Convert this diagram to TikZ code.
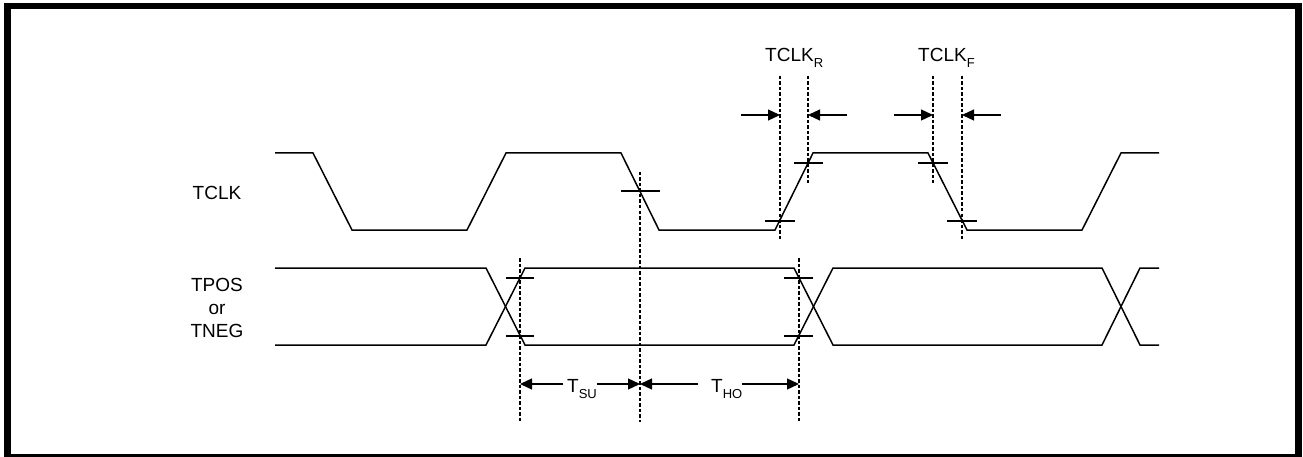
\documentclass[tikz,border=0pt]{standalone}
\usepackage{fontspec}
\setmainfont{Liberation Sans}
\usetikzlibrary{arrows.meta}
\newcommand{\mysub}[1]{\raisebox{-6pt}{\fontsize{13}{13}\selectfont #1}}
\begin{document}
\begin{tikzpicture}[x=1pt,y=-1pt,
  sig/.style={line width=1.5pt, line join=miter},
  dsh/.style={line width=1.2pt, dash pattern=on 3.5pt off 2pt},
  tick/.style={line width=1.3pt},
  arr/.style={line width=1.3pt, -{Triangle[length=12pt,width=11pt]}},
  lbl/.style={font=\fontsize{19}{23}\selectfont, inner sep=0pt}]
\useasboundingbox (0,0) rectangle (1303,457);
% frame
\draw[line width=6.5pt] (7.5,6) rectangle (1298.5,457);
% labels
\node[lbl, align=center] (ltclk) at (217,193) {TCLK};
\node[lbl, align=center] (ltpos) at (217,308) {TPOS\\or\\TNEG};
% TCLK waveform
\draw[sig] (275,153) -- (313,153) -- (352,230) -- (467,230) -- (506,153)
  -- (621,153) -- (659,230) -- (775,230) -- (813,153) -- (928,153)
  -- (967,230) -- (1082,230) -- (1121,153) -- (1159,153);
% TPOS/TNEG waveform
\draw[sig] (275,268) -- (486,268) -- (525,345) -- (794,345) -- (833,268)
  -- (1102,268) -- (1140,345) -- (1159,345);
\draw[sig] (275,345) -- (486,345) -- (525,268) -- (794,268) -- (833,345)
  -- (1102,345) -- (1140,268) -- (1159,268);
% ticks
\draw[tick] (506,278) -- (534,278);
\draw[tick] (506,336) -- (534,336);
\draw[tick] (784,278) -- (813,278);
\draw[tick] (784,336) -- (813,336);
\draw[tick] (621,191) -- (660,191);
\draw[tick] (765,221) -- (795,221);
\draw[tick] (794,163) -- (823,163);
\draw[tick] (918,163) -- (948,163);
\draw[tick] (947,221) -- (977,221);
% dashed lines
\coordinate (s1) at (520,258); \coordinate (s2) at (520,422);
\coordinate (c1) at (640,172); \coordinate (c2) at (640,422);
\coordinate (h1) at (799,258); \coordinate (h2) at (799,422);
\coordinate (r1) at (780,76);  \coordinate (r2) at (780,240);
\coordinate (r3) at (808,76);  \coordinate (r4) at (808,183);
\coordinate (f1) at (933,76);  \coordinate (f2) at (933,183);
\coordinate (f3) at (962,76);  \coordinate (f4) at (962,240);
\draw[dsh] (s1) -- (s2);
\draw[dsh] (c1) -- (c2);
\draw[dsh] (h1) -- (h2);
\draw[dsh] (r1) -- (r2);
\draw[dsh] (r3) -- (r4);
\draw[dsh] (f1) -- (f2);
\draw[dsh] (f3) -- (f4);
% TCLK_R / TCLK_F
\node[lbl, anchor=base west] (ltr) at (765,62) {TCLK\mysub{R}};
\node[lbl, anchor=base west] (ltf) at (918,62) {TCLK\mysub{F}};
\coordinate (ra) at (741,115); \coordinate (rat) at (780,115);
\coordinate (rb) at (847,115); \coordinate (rbt) at (808,115);
\coordinate (fa) at (894,115); \coordinate (fat) at (933,115);
\coordinate (fb) at (1001,115); \coordinate (fbt) at (962,115);
\draw[arr] (ra) -- (rat);
\draw[arr] (rb) -- (rbt);
\draw[arr] (fa) -- (fat);
\draw[arr] (fb) -- (fbt);
% T_SU / T_HO
\node[lbl, anchor=base west] (tsu) at (567,392) {T\mysub{SU}};
\node[lbl, anchor=base west] (tho) at (711,392) {T\mysub{HO}};
\coordinate (su1) at (563,384); \coordinate (su1t) at (520,384);
\coordinate (su2) at (597,384); \coordinate (su2t) at (640,384);
\coordinate (ho1) at (698,384); \coordinate (ho1t) at (640,384);
\coordinate (ho2) at (742,384); \coordinate (ho2t) at (799,384);
\draw[arr] (su1) -- (su1t);
\draw[arr] (su2) -- (su2t);
\draw[arr] (ho1) -- (ho1t);
\draw[arr] (ho2) -- (ho2t);
\end{tikzpicture}
\end{document}
